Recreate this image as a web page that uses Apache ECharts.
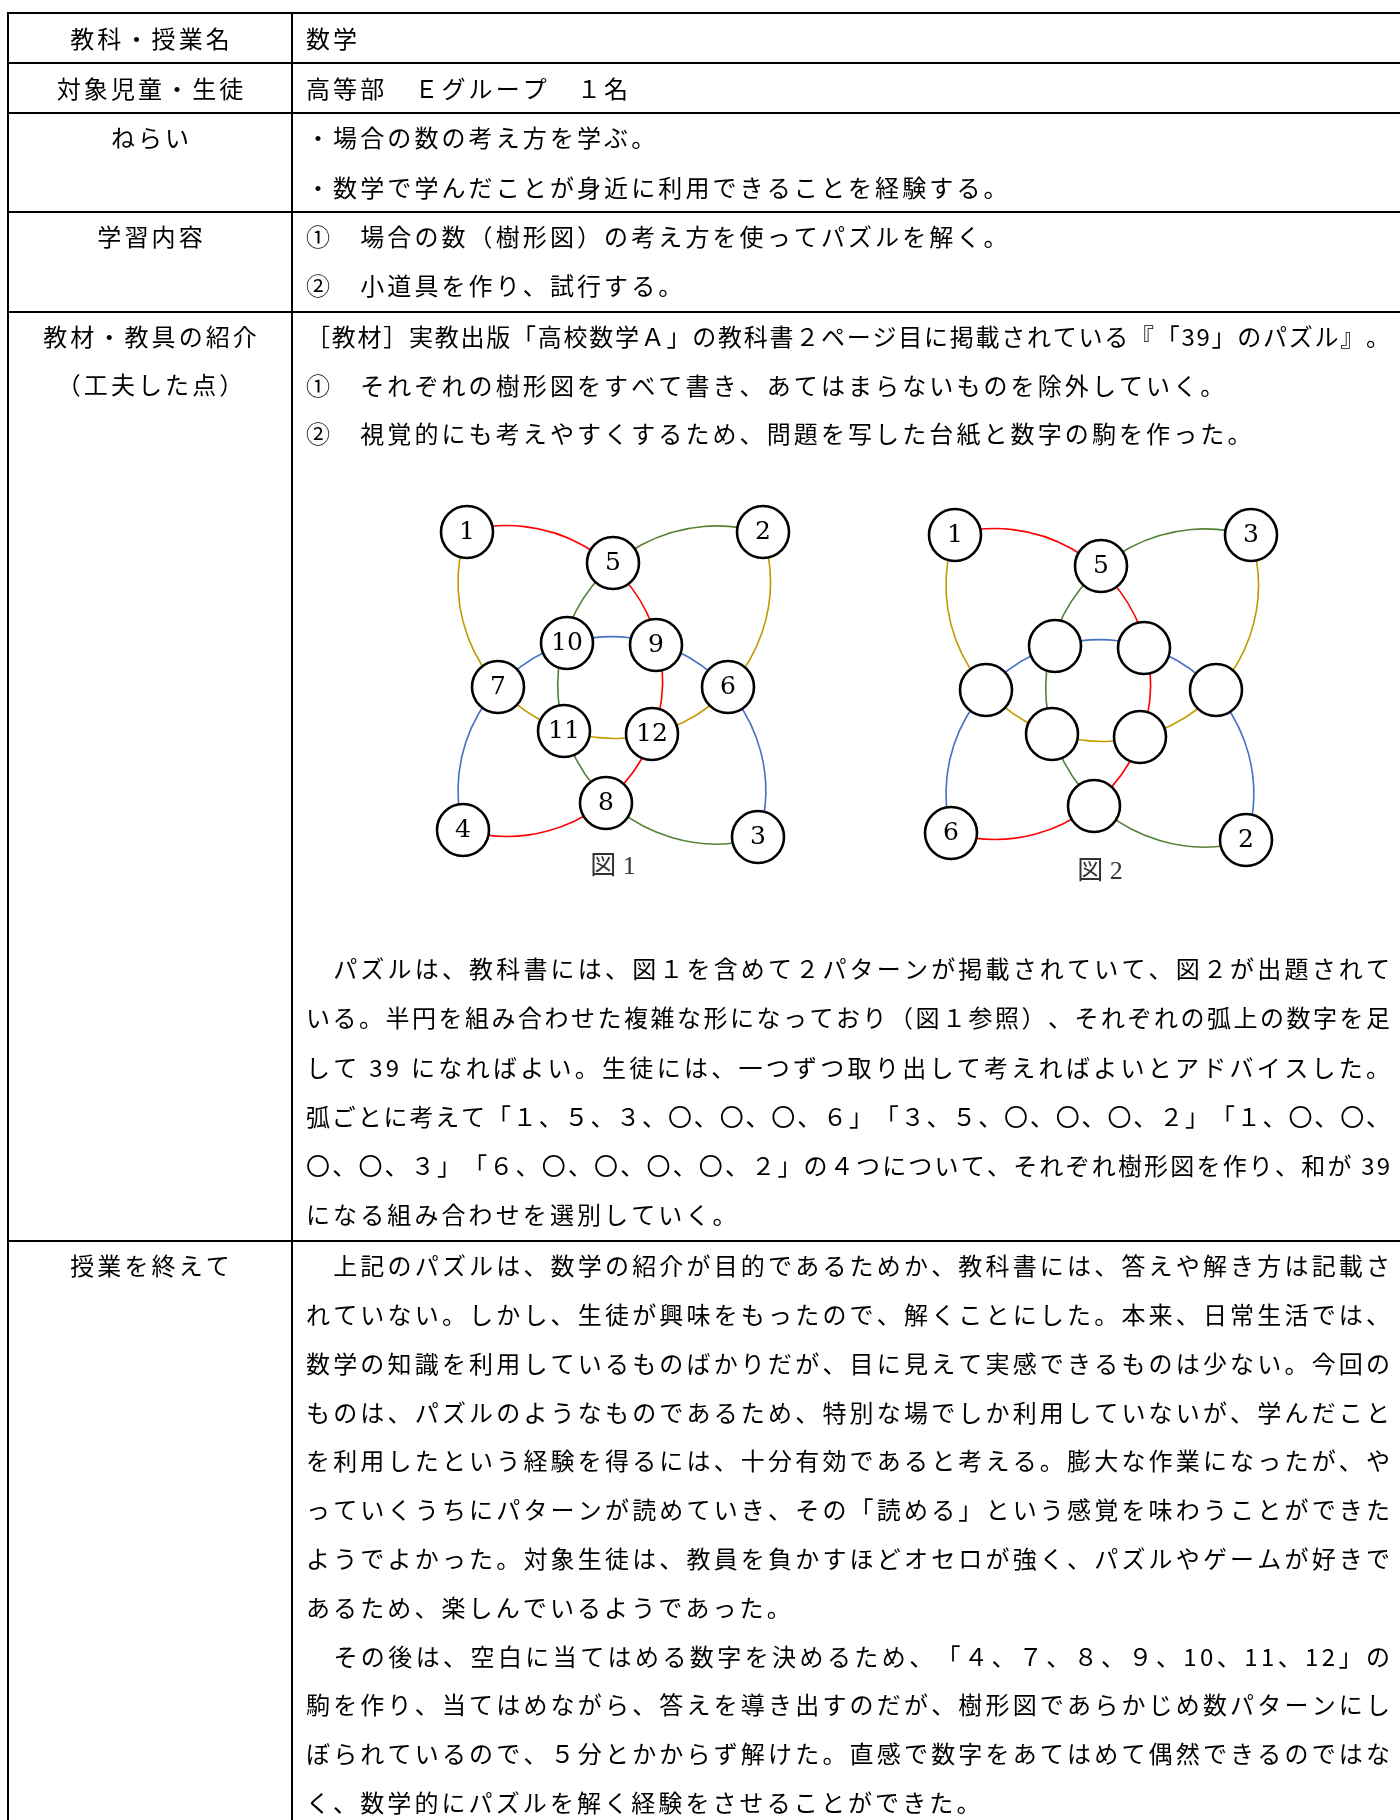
<!DOCTYPE html>
<html><head><meta charset="utf-8">
<script src="https://cdn.jsdelivr.net/npm/echarts@6/dist/echarts.min.js"></script>
<style>html,body{margin:0;padding:0;background:#fff}#c{width:1400px;height:1820px}</style>
</head><body><div id="c"></div>
<script>
// ---------------- text content ----------------
const ROW_HEADS = ['教科・授業名', '対象児童・生徒', 'ねらい', '学習内容', '教材・教具の紹介', '（工夫した点）', '授業を終えて'];
const SUBJECT = ['数学'];
const TARGET = ['高等部　Ｅグループ　１名'];
const AIMS = ['・場合の数の考え方を学ぶ。', '・数学で学んだことが身近に利用できることを経験する。'];
const CONTENTS = ['①　場合の数（樹形図）の考え方を使ってパズルを解く。', '②　小道具を作り、試行する。'];
const MATERIALS = [
  '［教材］実教出版「高校数学Ａ」の教科書２ページ目に掲載されている『「39」のパズル』。',
  '①　それぞれの樹形図をすべて書き、あてはまらないものを除外していく。',
  '②　視覚的にも考えやすくするため、問題を写した台紙と数字の駒を作った。'
];
const PUZZLE_NOTE = [
  '　パズルは、教科書には、図１を含めて２パターンが掲載されていて、図２が出題されて',
  'いる。半円を組み合わせた複雑な形になっており（図１参照）、それぞれの弧上の数字を足',
  'して 39 になればよい。生徒には、一つずつ取り出して考えればよいとアドバイスした。',
  '弧ごとに考えて「１、５、３、〇、〇、〇、６」「３、５、〇、〇、〇、２」「１、〇、〇、',
  '〇、〇、３」「６、〇、〇、〇、〇、２」の４つについて、それぞれ樹形図を作り、和が 39',
  'になる組み合わせを選別していく。'
];
const REFLECTION = [
  '　上記のパズルは、数学の紹介が目的であるためか、教科書には、答えや解き方は記載さ',
  'れていない。しかし、生徒が興味をもったので、解くことにした。本来、日常生活では、',
  '数学の知識を利用しているものばかりだが、目に見えて実感できるものは少ない。今回の',
  'ものは、パズルのようなものであるため、特別な場でしか利用していないが、学んだこと',
  'を利用したという経験を得るには、十分有効であると考える。膨大な作業になったが、や',
  'っていくうちにパターンが読めていき、その「読める」という感覚を味わうことができた',
  'ようでよかった。対象生徒は、教員を負かすほどオセロが強く、パズルやゲームが好きで',
  'あるため、楽しんでいるようであった。',
  '　その後は、空白に当てはめる数字を決めるため、「４、７、８、９、10、11、12」の',
  '駒を作り、当てはめながら、答えを導き出すのだが、樹形図であらかじめ数パターンにし',
  'ぼられているので、５分とかからず解けた。直感で数字をあてはめて偶然できるのではな',
  'く、数学的にパズルを解く経験をさせることができた。'
];

// ---------------- puzzle diagram data ----------------
// slots: TL, TR, BR, BL, TOP, RIGHT, LEFT, BOTTOM, IN_TR, IN_TL, IN_BL, IN_BR (diagram units)
const SLOT_X = [47, 343, 338, 43, 193, 308, 78, 186, 236, 147, 144, 232];
const SLOT_Y = [52, 52, 357, 350, 83, 207, 207, 323, 165, 163, 251, 254];
const FIG1_LABELS = ['1', '2', '3', '4', '5', '6', '7', '8', '9', '10', '11', '12'];
const FIG2_LABELS = ['1', '3', '2', '6', '5', '', '', '', '', '', '', ''];
const ARC_PATHS = [
  [0, 4, 8, 11, 7, 3],   // red
  [1, 4, 9, 10, 7, 2],   // green
  [0, 6, 10, 11, 5, 1],  // gold
  [3, 6, 9, 8, 5, 2]     // blue
];
const ARC_COLORS = ['#FF0000', '#548235', '#C49A00', '#4472C4'];
const FIG_CAPTIONS = ['図 1', '図 2'];

// ---------------- text layout helpers ----------------
const FAMILY = '"Noto Sans CJK JP", "Noto Sans CJK SC", sans-serif';
const FS = 24;
const GAP = 3.1;
const mctx = document.createElement('canvas').getContext('2d');
mctx.font = FS + 'px ' + FAMILY;
const elements = [];

function placeLine(str, x0, y, opt) {
  opt = opt || {};
  const chars = Array.from(str);
  const ws = chars.map(c => mctx.measureText(c).width);
  const total = ws.reduce((a, b) => a + b, 0);
  let gap = GAP;
  const natural = total + GAP * (chars.length - 1);
  if (opt.width && natural > opt.width * 0.9) {
    gap = (opt.width - total) / (chars.length - 1);
  }
  let x = x0;
  if (opt.center != null) x = opt.center - (total + gap * (chars.length - 1)) / 2;
  chars.forEach((c, i) => {
    if (c !== '　' && c !== ' ') {
      elements.push({
        type: 'text', x: x, y: y, silent: true, z: 10,
        style: {
          text: c, fill: '#000', fontSize: FS, fontFamily: FAMILY,
          textAlign: 'left', align: 'left', textVerticalAlign: 'middle', verticalAlign: 'middle'
        }
      });
    }
    x += ws[i] + gap;
  });
}

// ---------------- table frame ----------------
const L = 8, DIV = 292, R = 1400, TOP = 13, BOTTOM = 1820;
const HLINES = [13, 63, 113, 212, 312, 1241];
HLINES.forEach(y => elements.push({
  type: 'line', silent: true, z: 5,
  shape: { x1: L - 1, y1: y, x2: R, y2: y },
  style: { stroke: '#000', lineWidth: 2 }
}));
[L, DIV].forEach(x => elements.push({
  type: 'line', silent: true, z: 5,
  shape: { x1: x, y1: TOP - 1, x2: x, y2: BOTTOM },
  style: { stroke: '#000', lineWidth: 2 }
}));

// left column
const HEAD_Y = [39, 89, 138, 237, 337, 385, 1266];
ROW_HEADS.forEach((t, i) => placeLine(t, 0, HEAD_Y[i], { center: 150 }));

// right column
const TX = 306, TW = 1084;
placeLine(SUBJECT[0], TX, 39);
placeLine(TARGET[0], TX, 89);
AIMS.forEach((t, i) => placeLine(t, TX, 138 + i * 49.5));
CONTENTS.forEach((t, i) => placeLine(t, TX, 237 + i * 48.5));
MATERIALS.forEach((t, i) => placeLine(t, TX, 337 + i * 48.5, { width: TW }));
PUZZLE_NOTE.forEach((t, i) => placeLine(t, TX, 969 + i * 49.2, { width: TW }));
REFLECTION.forEach((t, i) => placeLine(t, TX, 1266 + i * 48.8, { width: TW }));

// captions
const CAP_POS = [[613, 867], [1100, 872]];
FIG_CAPTIONS.forEach((c, i) => elements.push({
  type: 'text', x: CAP_POS[i][0], y: CAP_POS[i][1], silent: true, z: 10,
  style: {
    text: c, fill: '#333', fontSize: 26, fontFamily: '"Liberation Serif", "Noto Sans CJK JP", serif',
    textAlign: 'center', align: 'center', textVerticalAlign: 'middle', verticalAlign: 'middle'
  }
}));

// ---------------- diagram series ----------------
function fitCircle(pts) {
  const n = pts.length;
  let mx = 0, my = 0;
  pts.forEach(p => { mx += p[0]; my += p[1]; });
  mx /= n; my /= n;
  let sxx = 0, syy = 0, sxy = 0, sx = 0, sy = 0, sxz = 0, syz = 0, sz = 0;
  pts.forEach(p => {
    const x = p[0] - mx, y = p[1] - my, z = x * x + y * y;
    sxx += x * x; syy += y * y; sxy += x * y; sx += x; sy += y;
    sxz += x * z; syz += y * z; sz += z;
  });
  const A = [[sxx, sxy, sx], [sxy, syy, sy], [sx, sy, n]];
  const B = [-sxz, -syz, -sz];
  const det = m => m[0][0] * (m[1][1] * m[2][2] - m[1][2] * m[2][1]) - m[0][1] * (m[1][0] * m[2][2] - m[1][2] * m[2][0]) + m[0][2] * (m[1][0] * m[2][1] - m[1][1] * m[2][0]);
  const d = det(A);
  const sol = [0, 1, 2].map(k => {
    const M = A.map((row, r) => row.map((v, c) => c === k ? B[r] : v));
    return det(M) / d;
  });
  const cx = -sol[0] / 2, cy = -sol[1] / 2;
  const r = Math.sqrt(cx * cx + cy * cy - sol[2]);
  return { cx: cx + mx, cy: cy + my, r: r };
}

function arcSeries(fi) {
  return {
    type: 'custom', coordinateSystem: 'cartesian2d', xAxisIndex: fi, yAxisIndex: fi,
    clip: false, silent: true, z: 1,
    data: ARC_PATHS.map(p => [SLOT_X[p[0]], SLOT_Y[p[0]]]),
    renderItem: function (params, api) {
      const path = ARC_PATHS[params.dataIndex];
      const pts = path.map(s => api.coord([SLOT_X[s], SLOT_Y[s]]));
      const c = fitCircle(pts);
      const ang = p => Math.atan2(p[1] - c.cy, p[0] - c.cx);
      const a0 = ang(pts[0]), a1 = ang(pts[pts.length - 1]), am = ang(pts[2]);
      const TAU = Math.PI * 2;
      const mod = v => ((v % TAU) + TAU) % TAU;
      const cw = mod(am - a0) < mod(a1 - a0);
      return {
        type: 'arc',
        shape: { cx: c.cx, cy: c.cy, r: c.r, startAngle: a0, endAngle: a1, clockwise: cw },
        style: { stroke: ARC_COLORS[params.dataIndex], fill: 'none', lineWidth: 1.6 }
      };
    }
  };
}

function nodeSeries(fi, labels) {
  return {
    type: 'scatter', xAxisIndex: fi, yAxisIndex: fi, z: 3, silent: true,
    symbol: 'circle', symbolSize: 52,
    itemStyle: { color: '#fff', borderColor: '#000', borderWidth: 2.6, opacity: 1 },
    label: {
      show: true, position: 'inside', formatter: p => p.name, color: '#000',
      fontFamily: '"DejaVu Serif", "Liberation Serif", serif', fontSize: 25
    },
    emphasis: { disabled: true },
    data: SLOT_X.map((x, i) => ({ name: labels[i], value: [x, SLOT_Y[i]] }))
  };
}

const axisX = gi => ({ gridIndex: gi, type: 'value', min: 0, max: 380, show: false });
const axisY = gi => ({ gridIndex: gi, type: 'value', min: 0, max: 400, inverse: true, show: false });

const chart = echarts.init(document.getElementById('c'), null, { renderer: 'canvas', width: 1400, height: 1820 });
chart.setOption({
  animation: false,
  backgroundColor: '#fff',
  grid: [
    { left: 420, top: 480, width: 380, height: 400 },
    { left: 908, top: 483, width: 380, height: 400 }
  ],
  xAxis: [axisX(0), axisX(1)],
  yAxis: [axisY(0), axisY(1)],
  series: [arcSeries(0), nodeSeries(0, FIG1_LABELS), arcSeries(1), nodeSeries(1, FIG2_LABELS)],
  graphic: { elements: elements }
});
</script>
</body></html>
